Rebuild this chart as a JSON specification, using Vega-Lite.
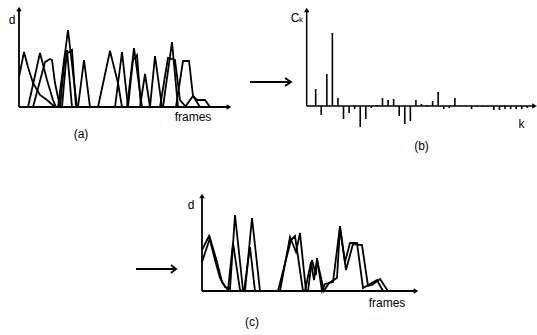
{
  "$schema": "https://vega.github.io/schema/vega-lite/v6.json",
  "background": "white",
  "padding": 0,
  "spacing": 0,
  "config": {"view": {"stroke": null}, "text": {"font": "Liberation Sans", "fontSize": 12, "color": "black"}},
  "vconcat": [
    {
      "spacing": 0,
      "bounds": "flush",
      "hconcat": [
        {
          "width": 292,
          "height": 160,
          "layer": [
            {
              "data": {"values": [
                {"s":"1","x":0,"y":30},{"s":"1","x":5,"y":55},{"s":"1","x":9,"y":40},{"s":"1","x":14,"y":24},{"s":"1","x":21,"y":12},{"s":"1","x":28,"y":7},{"s":"1","x":36,"y":0},{"s":"1","x":39,"y":0},{"s":"1","x":49,"y":77},{"s":"1","x":58,"y":0},{"s":"1","x":79,"y":0},{"s":"1","x":91,"y":56},{"s":"1","x":99,"y":24},{"s":"1","x":103,"y":0},{"s":"1","x":108,"y":0},{"s":"1","x":115,"y":59},{"s":"1","x":123,"y":0},{"s":"1","x":144,"y":0},{"s":"1","x":153,"y":65},{"s":"1","x":159,"y":0},{"s":"1","x":166,"y":0},{"s":"1","x":174,"y":11},{"s":"1","x":178,"y":7},{"s":"1","x":186,"y":7},{"s":"1","x":191,"y":0},
                {"s":"2","x":9,"y":0},{"s":"2","x":21,"y":54},{"s":"2","x":28,"y":27},{"s":"2","x":34,"y":7},{"s":"2","x":37,"y":0},{"s":"2","x":41,"y":0},{"s":"2","x":46,"y":52},{"s":"2","x":53,"y":57},{"s":"2","x":57,"y":0},{"s":"2","x":59,"y":0},{"s":"2","x":65,"y":47},{"s":"2","x":71,"y":0},{"s":"2","x":96,"y":0},{"s":"2","x":103,"y":55},{"s":"2","x":109,"y":0},{"s":"2","x":121,"y":0},{"s":"2","x":126,"y":33},{"s":"2","x":131,"y":0},{"s":"2","x":141,"y":0},{"s":"2","x":149,"y":49},{"s":"2","x":156,"y":47},{"s":"2","x":161,"y":7},{"s":"2","x":167,"y":0},
                {"s":"3","x":14,"y":0},{"s":"3","x":26,"y":45},{"s":"3","x":31,"y":48},{"s":"3","x":33,"y":47},{"s":"3","x":36,"y":24},{"s":"3","x":41,"y":0},{"s":"3","x":43,"y":0},{"s":"3","x":48,"y":57},{"s":"3","x":53,"y":0},{"s":"3","x":109,"y":0},{"s":"3","x":114,"y":47},{"s":"3","x":118,"y":52},{"s":"3","x":122,"y":0},{"s":"3","x":131,"y":0},{"s":"3","x":136,"y":51},{"s":"3","x":143,"y":0},{"s":"3","x":157,"y":0},{"s":"3","x":164,"y":46},{"s":"3","x":170,"y":46},{"s":"3","x":174,"y":11},{"s":"3","x":181,"y":0},
                {"s":"xaxis","x":0,"y":0},{"s":"xaxis","x":209,"y":0},
                {"s":"yaxis","x":0,"y":0},{"s":"yaxis","x":0,"y":97},
                {"s":"arrow","x":231,"y":25},{"s":"arrow","x":272,"y":25},
                {"s":"head","x":266,"y":29},{"s":"head","x":272,"y":25},{"s":"head","x":266,"y":21}
              ]},
              "mark": {"type": "line", "color": "black", "strokeWidth": 1.8, "strokeJoin": "miter"},
              "encoding": {
                "x": {"field": "x", "type": "quantitative", "scale": {"domain": [-19, 273], "nice": false, "zero": false}, "axis": null},
                "y": {"field": "y", "type": "quantitative", "scale": {"domain": [-53, 107], "nice": false, "zero": false}, "axis": null},
                "detail": {"field": "s"},
                "order": {"value": null}
              }
            },
            {
              "data": {"values": [{"x":0,"y":98,"dir":"up"},{"x":210,"y":0,"dir":"right"}]},
              "mark": {"type": "point", "filled": true, "color": "black", "size": 30, "opacity": 1},
              "encoding": {
                "x": {"field": "x", "type": "quantitative"},
                "y": {"field": "y", "type": "quantitative"},
                "shape": {"field": "dir", "type": "nominal", "scale": {"domain": ["up","right"], "range": ["triangle-up","triangle-right"]}, "legend": null}
              }
            },
            {
              "data": {"values": [{"x":-7,"y":87,"t":"d"},{"x":174,"y":-10,"t":"frames"},{"x":62,"y":-27,"t":"(a)"}]},
              "mark": {"type": "text", "align": "center", "baseline": "middle", "fontSize": 12},
              "encoding": {
                "x": {"field": "x", "type": "quantitative"},
                "y": {"field": "y", "type": "quantitative"},
                "text": {"field": "t"}
              }
            }
          ]
        },
        {
          "width": 245,
          "height": 160,
          "layer": [
            {
              "data": {"values": [
                {"k":1,"c":17},{"k":2,"c":-9},{"k":3,"c":32},{"k":4,"c":73},{"k":5,"c":8},{"k":6,"c":-13},{"k":7,"c":-7},{"k":8,"c":-3},{"k":9,"c":-21},{"k":10,"c":-13},
                {"k":11,"c":-2},{"k":12,"c":1},{"k":13,"c":8},{"k":14,"c":6},{"k":15,"c":7},{"k":16,"c":-10},{"k":17,"c":-18},{"k":18,"c":-15},{"k":19,"c":6},{"k":20,"c":2},
                {"k":21,"c":1},{"k":22,"c":5},{"k":23,"c":14},{"k":24,"c":-3},{"k":25,"c":-2},{"k":26,"c":8},{"k":27,"c":0.5},{"k":28,"c":0.5},{"k":29,"c":-3},{"k":30,"c":-1},
                {"k":31,"c":-1},{"k":32,"c":-1},{"k":33,"c":-4},{"k":34,"c":-4},{"k":35,"c":-3},{"k":36,"c":-3},{"k":37,"c":-3},{"k":38,"c":-3},{"k":39,"c":-2}
              ]},
              "mark": {"type": "rule", "color": "black", "strokeWidth": 1.6},
              "encoding": {
                "x": {"field": "k", "type": "quantitative", "scale": {"domain": [-3.25, 40.74], "nice": false, "zero": false}, "axis": null},
                "y": {"field": "c", "type": "quantitative", "scale": {"domain": [-54, 106], "nice": false, "zero": false}, "axis": null},
                "y2": {"datum": 0}
              }
            },
            {
              "data": {"values": [
                {"s":"xaxis","k":-0.61,"c":0},{"s":"xaxis","k":40.3,"c":0},
                {"s":"yaxis","k":-0.61,"c":0},{"s":"yaxis","k":-0.61,"c":95}
              ]},
              "mark": {"type": "line", "color": "black", "strokeWidth": 1.5},
              "encoding": {
                "x": {"field": "k", "type": "quantitative"},
                "y": {"field": "c", "type": "quantitative"},
                "detail": {"field": "s"},
                "order": {"value": null}
              }
            },
            {
              "data": {"values": [{"k":-0.61,"c":96,"dir":"up"},{"k":40.3,"c":0,"dir":"right"}]},
              "mark": {"type": "point", "filled": true, "color": "black", "size": 30, "opacity": 1},
              "encoding": {
                "x": {"field": "k", "type": "quantitative"},
                "y": {"field": "c", "type": "quantitative"},
                "shape": {"field": "dir", "type": "nominal", "scale": {"domain": ["up","right"], "range": ["triangle-up","triangle-right"]}, "legend": null}
              }
            },
            {
              "data": {"values": [{"k":-2.71,"c":88.5,"t":"C"},{"k":37.95,"c":-18,"t":"k"},{"k":20,"c":-40,"t":"(b)"}]},
              "mark": {"type": "text", "align": "center", "baseline": "middle", "fontSize": 12},
              "encoding": {
                "x": {"field": "k", "type": "quantitative"},
                "y": {"field": "c", "type": "quantitative"},
                "text": {"field": "t"}
              }
            },
            {
              "data": {"values": [{"k":-1.63,"c":86,"t":"k"}]},
              "mark": {"type": "text", "align": "center", "baseline": "middle", "fontSize": 8},
              "encoding": {
                "x": {"field": "k", "type": "quantitative"},
                "y": {"field": "c", "type": "quantitative"},
                "text": {"field": "t"}
              }
            }
          ]
        }
      ]
    },
    {
      "width": 537,
      "height": 175,
      "layer": [
        {
          "data": {"values": [
            {"s":"1","x":0,"y":41},{"s":"1","x":7,"y":55},{"s":"1","x":13,"y":31},{"s":"1","x":18,"y":13},{"s":"1","x":23,"y":4},{"s":"1","x":28,"y":2},{"s":"1","x":33,"y":76},{"s":"1","x":41,"y":1},{"s":"1","x":43,"y":0},{"s":"1","x":50,"y":73},{"s":"1","x":58,"y":0},{"s":"1","x":78,"y":0},{"s":"1","x":88,"y":54},{"s":"1","x":94,"y":39},{"s":"1","x":98,"y":58},{"s":"1","x":104,"y":0},{"s":"1","x":106,"y":0},{"s":"1","x":110,"y":31},{"s":"1","x":114,"y":16},{"s":"1","x":115,"y":33},{"s":"1","x":120,"y":0},{"s":"1","x":123,"y":7},{"s":"1","x":131,"y":9},{"s":"1","x":138,"y":65},{"s":"1","x":143,"y":29},{"s":"1","x":148,"y":48},{"s":"1","x":155,"y":48},{"s":"1","x":161,"y":3},{"s":"1","x":175,"y":11},{"s":"1","x":181,"y":0},
            {"s":"2","x":0,"y":29},{"s":"2","x":8,"y":53},{"s":"2","x":15,"y":29},{"s":"2","x":20,"y":9},{"s":"2","x":26,"y":1},{"s":"2","x":31,"y":48},{"s":"2","x":38,"y":1},{"s":"2","x":42,"y":0},{"s":"2","x":48,"y":44},{"s":"2","x":53,"y":0},{"s":"2","x":76,"y":0},{"s":"2","x":89,"y":51},{"s":"2","x":93,"y":55},{"s":"2","x":101,"y":0},{"s":"2","x":103,"y":0},{"s":"2","x":109,"y":29},{"s":"2","x":112,"y":11},{"s":"2","x":115,"y":31},{"s":"2","x":122,"y":0},{"s":"2","x":127,"y":8},{"s":"2","x":135,"y":13},{"s":"2","x":138,"y":63},{"s":"2","x":144,"y":21},{"s":"2","x":151,"y":47},{"s":"2","x":160,"y":46},{"s":"2","x":166,"y":5},{"s":"2","x":170,"y":6},{"s":"2","x":178,"y":12},{"s":"2","x":186,"y":0},
            {"s":"xaxis","x":0,"y":0},{"s":"xaxis","x":213,"y":0},
            {"s":"yaxis","x":0,"y":0},{"s":"yaxis","x":0,"y":94},
            {"s":"arrow","x":-66,"y":22},{"s":"arrow","x":-26,"y":22},
            {"s":"head","x":-31,"y":26},{"s":"head","x":-26,"y":22},{"s":"head","x":-31,"y":18}
          ]},
          "mark": {"type": "line", "color": "black", "strokeWidth": 1.8, "strokeJoin": "miter"},
          "encoding": {
            "x": {"field": "x", "type": "quantitative", "scale": {"domain": [-202, 335], "nice": false, "zero": false}, "axis": null},
            "y": {"field": "y", "type": "quantitative", "scale": {"domain": [-44, 131], "nice": false, "zero": false}, "axis": null},
            "detail": {"field": "s"},
            "order": {"value": null}
          }
        },
        {
          "data": {"values": [{"x":0,"y":95,"dir":"up"},{"x":214,"y":0,"dir":"right"}]},
          "mark": {"type": "point", "filled": true, "color": "black", "size": 30, "opacity": 1},
          "encoding": {
            "x": {"field": "x", "type": "quantitative"},
            "y": {"field": "y", "type": "quantitative"},
            "shape": {"field": "dir", "type": "nominal", "scale": {"domain": ["up","right"], "range": ["triangle-up","triangle-right"]}, "legend": null}
          }
        },
        {
          "data": {"values": [{"x":-11,"y":86,"t":"d"},{"x":185,"y":-12,"t":"frames"},{"x":50,"y":-31,"t":"(c)"}]},
          "mark": {"type": "text", "align": "center", "baseline": "middle", "fontSize": 12},
          "encoding": {
            "x": {"field": "x", "type": "quantitative"},
            "y": {"field": "y", "type": "quantitative"},
            "text": {"field": "t"}
          }
        }
      ]
    }
  ]
}
